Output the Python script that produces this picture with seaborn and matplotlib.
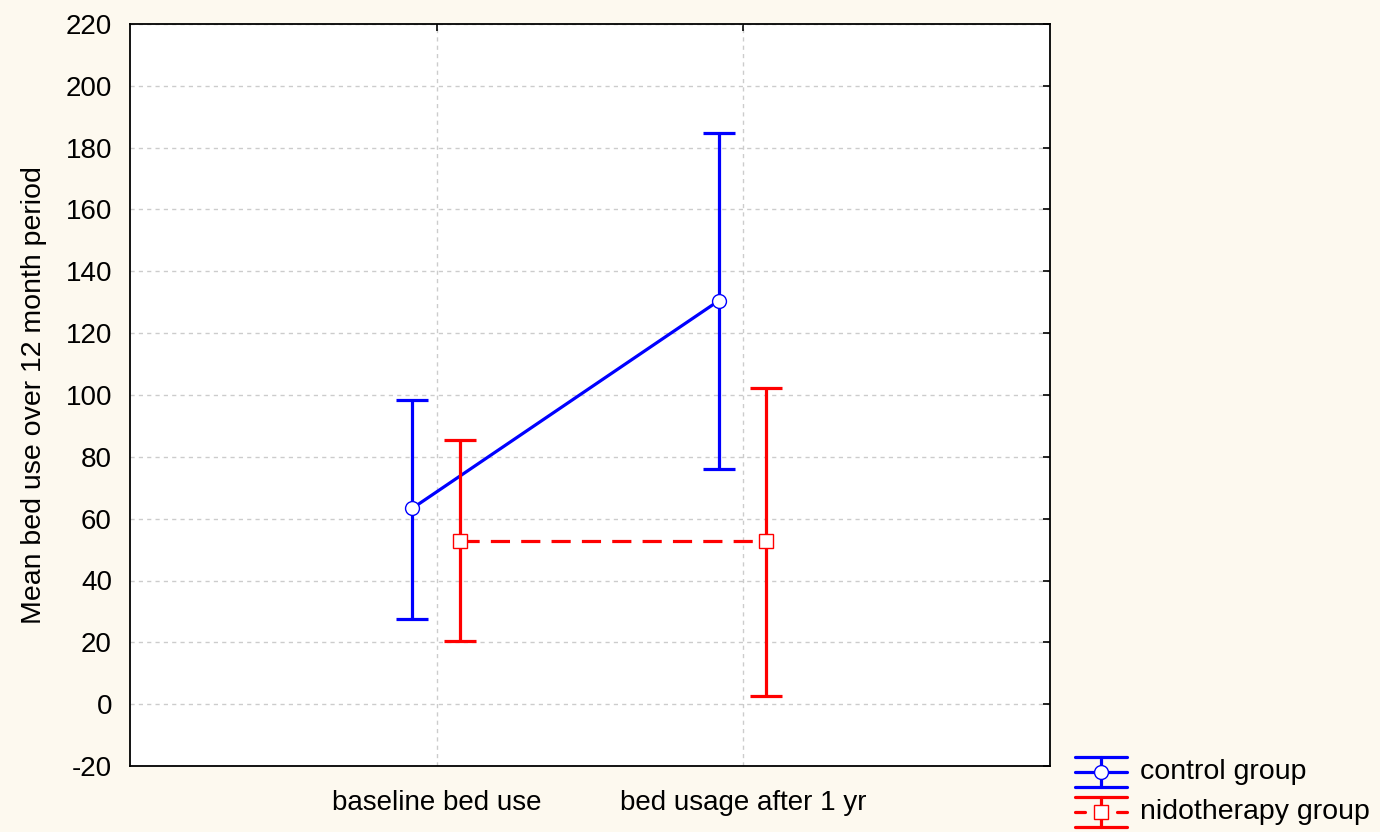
import matplotlib
matplotlib.use("Agg")
import matplotlib.pyplot as plt
import seaborn as sns
import numpy as np
import pandas as pd
from matplotlib.lines import Line2D

categories = ["baseline bed use", "bed usage after 1 yr"]
groups = ["control group", "nidotherapy group"]
control_mean = [63.3, 130.5]
control_low = [27.5, 76.0]
control_high = [98.4, 184.6]
nido_mean = [52.7, 52.7]
nido_low = [20.4, 2.6]
nido_high = [85.3, 102.2]
y_ticks = list(range(-20, 221, 20))

sns.set_style("white")
plt.rcParams['font.family'] = ['Liberation Sans', 'DejaVu Sans']
plt.rcParams['axes.unicode_minus'] = False
plt.rcParams['text.color'] = 'black'
plt.rcParams['axes.labelcolor'] = 'black'

BG = "#FDF9EF"
fig = plt.figure(figsize=(13.8, 8.32), dpi=100, facecolor=BG)
ax = fig.add_axes([130/1380, 66/832, 920/1380, 742/832])
ax.set_facecolor("white")

offsets = [-0.08, 0.075]
colors = ["#0000FF", "#FF0000"]
markers = ["o", "s"]

rows = []
for gi, (g, m, lo, hi) in enumerate([(groups[0], control_mean, control_low, control_high),
                                      (groups[1], nido_mean, nido_low, nido_high)]):
    for ci, c in enumerate(categories):
        rows.append(dict(group=g, pos=ci + offsets[gi], mean=m[ci], low=lo[ci], high=hi[ci]))
df = pd.DataFrame(rows)

for gi, g in enumerate(groups):
    d = df[df.group == g]
    ls = "-" if gi == 0 else (0, (6, 3.5))
    sns.lineplot(data=d, x="pos", y="mean", ax=ax, color=colors[gi], lw=2.3,
                 linestyle=ls, zorder=3, legend=False)
    ax.errorbar(d["pos"], d["mean"],
                yerr=[d["mean"] - d["low"], d["high"] - d["mean"]],
                fmt="none", ecolor=colors[gi], elinewidth=2.3, capsize=11.5,
                capthick=2.3, zorder=4)
    ax.plot(d["pos"], d["mean"], linestyle="none", marker=markers[gi], ms=10 if gi == 0 else 9.5,
            mfc="white", mec=colors[gi], mew=1.0, zorder=5)

ax.set_xlim(-1, 2)
ax.set_ylim(-20, 220)
ax.set_xticks(range(len(categories)))
ax.set_xticklabels(categories)
ax.set_yticks(y_ticks)
ax.set_xlabel("")
ax.set_ylabel("Mean bed use over 12 month period", fontsize=20.5, labelpad=13, color="black")
ax.tick_params(axis="both", labelsize=20, direction="in", length=5, width=1.2,
               top=True, right=True, colors="black", labelcolor="black")
ax.tick_params(axis="y", pad=13)
ax.tick_params(axis="x", pad=17)
ax.grid(True, color="#CCCCCC", linestyle=(0, (3, 3)), linewidth=1.0)
for s in ax.spines.values():
    s.set_color("black")
    s.set_linewidth(1.3)

# legend (manual, figure coords)
def fx(px):
    return px / 1380
def fy(py):
    return 1 - py / 832

x0, x1, xm = 1075, 1127, 1101
entries = [(757, 787, 772, colors[0], "o", "-", groups[0]),
           (797, 827, 812, colors[1], "s", "--", groups[1])]
for top, bot, mid, col, mk, ls, lab in entries:
    for yy in (top, bot):
        fig.add_artist(Line2D([fx(x0), fx(x1)], [fy(yy), fy(yy)], color=col, lw=2.3))
    fig.add_artist(Line2D([fx(xm), fx(xm)], [fy(top), fy(bot)], color=col, lw=2.3))
    if ls == "-":
        fig.add_artist(Line2D([fx(x0), fx(x1)], [fy(mid), fy(mid)], color=col, lw=2.3))
    else:
        for a, b in [(1075, 1085), (1117, 1127)]:
            fig.add_artist(Line2D([fx(a), fx(b)], [fy(mid), fy(mid)], color=col, lw=2.3))
    fig.add_artist(Line2D([fx(xm)], [fy(mid)], marker=mk, ms=10 if mk == "o" else 9.5,
                          mfc="white", mec=col, mew=1.0, linestyle="none"))
    fig.text(fx(1140), fy(mid), lab, fontsize=20.5, va="center", ha="left", color="black")

fig.savefig("out.png", dpi=100, facecolor=BG)
